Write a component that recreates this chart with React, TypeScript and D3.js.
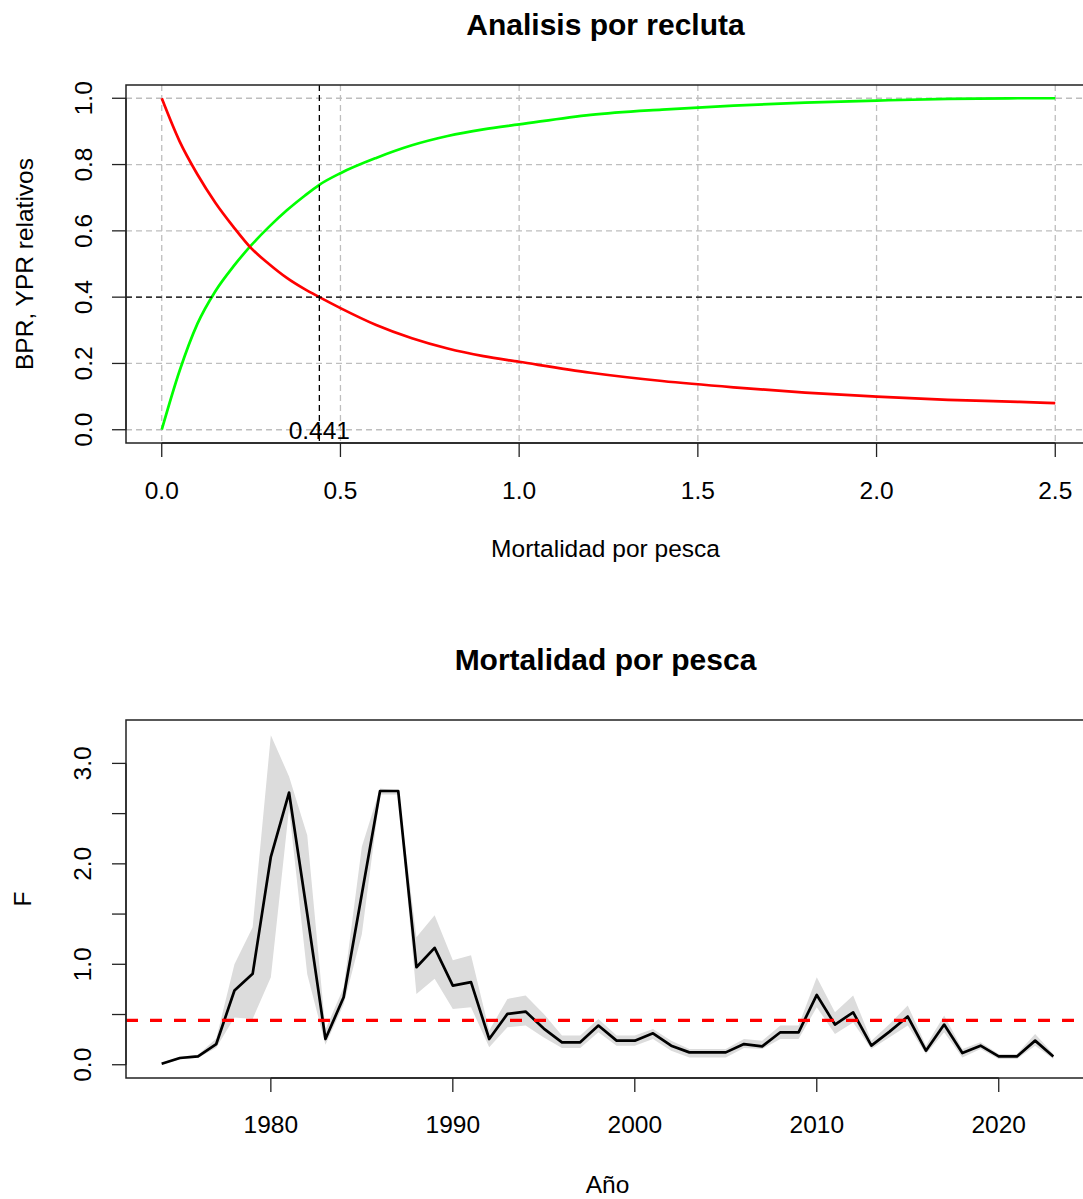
import React from 'react';
import * as d3 from 'd3';

// ---------- Top panel data (per-recruit analysis) ----------
const fGrid = [0, 0.05, 0.1, 0.15, 0.2, 0.25, 0.3, 0.35, 0.4, 0.441, 0.5, 0.6, 0.7, 0.8, 0.9, 1.0, 1.2, 1.4, 1.6, 1.8, 2.0, 2.2, 2.4, 2.5];
const bprRel = [1.0, 0.87, 0.77, 0.685, 0.613, 0.548, 0.5, 0.458, 0.424, 0.4, 0.367, 0.316, 0.276, 0.245, 0.222, 0.205, 0.172, 0.147, 0.128, 0.112, 0.1, 0.09, 0.084, 0.08];
const yprRel = [0.0, 0.178, 0.32, 0.418, 0.492, 0.556, 0.612, 0.662, 0.706, 0.739, 0.774, 0.82, 0.858, 0.886, 0.906, 0.921, 0.95, 0.966, 0.978, 0.987, 0.993, 0.998, 1.0, 1.0];
const fRef = 0.441;
const bprRef = 0.4;
const topXTicks = [0, 0.5, 1.0, 1.5, 2.0, 2.5];
const topYTicks = [0, 0.2, 0.4, 0.6, 0.8, 1.0];

// ---------- Bottom panel data (fishing mortality) ----------
const years = [1974, 1975, 1976, 1977, 1978, 1979, 1980, 1981, 1982, 1983, 1984, 1985, 1986, 1987, 1988, 1989, 1990, 1991, 1992, 1993, 1994, 1995, 1996, 1997, 1998, 1999, 2000, 2001, 2002, 2003, 2004, 2005, 2006, 2007, 2008, 2009, 2010, 2011, 2012, 2013, 2014, 2015, 2016, 2017, 2018, 2019, 2020, 2021, 2022, 2023];
const fishingF = [0.01, 0.067, 0.083, 0.206, 0.739, 0.905, 2.07, 2.71, 1.5, 0.256, 0.672, 1.7, 2.725, 2.725, 0.971, 1.164, 0.788, 0.822, 0.256, 0.506, 0.529, 0.36, 0.223, 0.223, 0.39, 0.24, 0.24, 0.313, 0.19, 0.123, 0.123, 0.123, 0.206, 0.183, 0.323, 0.323, 0.695, 0.4, 0.522, 0.19, 0.33, 0.48, 0.14, 0.4, 0.116, 0.19, 0.083, 0.083, 0.24, 0.083];
const fLower = [0.0, 0.055, 0.07, 0.17, 0.47, 0.456, 0.87, 2.55, 0.9, 0.2, 0.6, 1.3, 2.69, 2.69, 0.705, 0.855, 0.556, 0.572, 0.173, 0.373, 0.39, 0.27, 0.166, 0.166, 0.323, 0.19, 0.19, 0.256, 0.14, 0.073, 0.073, 0.073, 0.166, 0.156, 0.256, 0.256, 0.572, 0.306, 0.42, 0.156, 0.273, 0.39, 0.106, 0.323, 0.073, 0.156, 0.057, 0.057, 0.19, 0.057];
const fUpper = [0.02, 0.08, 0.1, 0.26, 1.0, 1.37, 3.28, 2.87, 2.285, 0.35, 0.77, 2.17, 2.75, 2.73, 1.27, 1.487, 1.04, 1.09, 0.34, 0.655, 0.69, 0.506, 0.29, 0.29, 0.456, 0.29, 0.29, 0.356, 0.24, 0.156, 0.156, 0.156, 0.256, 0.24, 0.39, 0.39, 0.87, 0.522, 0.69, 0.24, 0.406, 0.59, 0.19, 0.49, 0.156, 0.223, 0.106, 0.106, 0.306, 0.106];
const fTarget = 0.441;
const bottomXTicks = [1980, 1990, 2000, 2010, 2020];
const bottomYTicks = [0, 0.5, 1.0, 1.5, 2.0, 2.5, 3.0];
const bottomYLabels = [0, 1.0, 2.0, 3.0];

const FONT = '"Liberation Sans", Arial, Helvetica, sans-serif';
const TXT = 24.5;
const TITLE = 30;
const AXIS = '#222';

export default function App() {
  // top panel geometry
  const tL = 126, tR = 1091, tT = 85, tB = 443;
  const xT = d3.scaleLinear().domain([-0.1, 2.6]).range([tL, tR]);
  const yT = d3.scaleLinear().domain([-0.04, 1.04]).range([tB, tT]);
  const tPts = fGrid.map((f, i) => ({ f, b: bprRel[i], y: yprRel[i] }));
  const bprLine = d3.line<any>().x(d => xT(d.f)).y(d => yT(d.b)).curve(d3.curveMonotoneX);
  const yprLine = d3.line<any>().x(d => xT(d.f)).y(d => yT(d.y)).curve(d3.curveMonotoneX);

  // bottom panel geometry
  const bL = 126, bR = 1089, bT = 720, bB = 1078;
  const xB = d3.scaleLinear().domain([1972.04, 2024.96]).range([bL, bR]);
  const yB = d3.scaleLinear().domain([-0.132, 3.432]).range([bB, bT]);
  const bPts = years.map((yr, i) => ({ yr, v: fishingF[i], lo: fLower[i], hi: fUpper[i] }));
  const band = d3.area<any>().x(d => xB(d.yr)).y0(d => yB(d.lo)).y1(d => yB(d.hi));
  const fLine = d3.line<any>().x(d => xB(d.yr)).y(d => yB(d.v));

  const fmt1 = d3.format('.1f');

  return (
    <svg width={1083} height={1199} style={{ position: 'absolute', left: 0, top: 0, background: '#fff' }}
      fontFamily={FONT}>
      <rect x={0} y={0} width={1083} height={1199} fill="#fff" />

      {/* ================= TOP PANEL ================= */}
      <text x={(tL + tR) / 2 - 3} y={35} textAnchor="middle" fontSize={TITLE} fontWeight="bold" fill="#000">Analisis por recluta</text>

      {/* grid */}
      <g stroke="#bebebe" strokeWidth={1.3} strokeDasharray="6,4" fill="none">
        {topXTicks.map(t => <line key={'gx' + t} x1={xT(t)} x2={xT(t)} y1={tT} y2={tB} />)}
        {topYTicks.map(t => <line key={'gy' + t} x1={tL} x2={tR} y1={yT(t)} y2={yT(t)} />)}
      </g>

      <path d={yprLine(tPts) || ''} fill="none" stroke="#00ff00" strokeWidth={2.7} />
      <path d={bprLine(tPts) || ''} fill="none" stroke="#ff0000" strokeWidth={2.7} />

      {/* reference lines */}
      <g stroke="#000" strokeWidth={1.3} strokeDasharray="6,4">
        <line x1={xT(fRef)} x2={xT(fRef)} y1={tT} y2={tB} />
        <line x1={tL} x2={tR} y1={yT(bprRef)} y2={yT(bprRef)} />
      </g>
      <text x={xT(fRef)} y={yT(0)} dy="0.36em" textAnchor="middle" fontSize={TXT} fill="#000">{fRef}</text>

      {/* box */}
      <rect x={tL} y={tT} width={tR - tL} height={tB - tT} fill="none" stroke={AXIS} strokeWidth={1.5} />

      {/* x axis */}
      <g stroke={AXIS} strokeWidth={1.3}>
        <line x1={xT(topXTicks[0])} x2={xT(topXTicks[topXTicks.length - 1])} y1={tB} y2={tB} />
        {topXTicks.map(t => <line key={'xt' + t} x1={xT(t)} x2={xT(t)} y1={tB} y2={tB + 14} />)}
      </g>
      {topXTicks.map(t => (
        <text key={'xl' + t} x={xT(t)} y={499} textAnchor="middle" fontSize={TXT} fill="#000">{fmt1(t)}</text>
      ))}
      <text x={(tL + tR) / 2 - 3} y={557} textAnchor="middle" fontSize={TXT} fill="#000">Mortalidad por pesca</text>

      {/* y axis */}
      <g stroke={AXIS} strokeWidth={1.3}>
        <line x1={tL} x2={tL} y1={yT(topYTicks[0])} y2={yT(topYTicks[topYTicks.length - 1])} />
        {topYTicks.map(t => <line key={'yt' + t} x1={tL} x2={tL - 14} y1={yT(t)} y2={yT(t)} />)}
      </g>
      {topYTicks.map(t => (
        <text key={'yl' + t} transform={`translate(92,${yT(t)}) rotate(-90)`} textAnchor="middle" fontSize={TXT} fill="#000">{fmt1(t)}</text>
      ))}
      <text transform={`translate(33,${(tT + tB) / 2}) rotate(-90)`} textAnchor="middle" fontSize={TXT} fill="#000">BPR, YPR relativos</text>

      {/* ================= BOTTOM PANEL ================= */}
      <text x={(bL + bR) / 2 - 2} y={670} textAnchor="middle" fontSize={TITLE} fontWeight="bold" fill="#000">Mortalidad por pesca</text>

      <path d={band(bPts) || ''} fill="#dcdcdc" stroke="none" />
      <path d={fLine(bPts) || ''} fill="none" stroke="#000" strokeWidth={2.7} strokeLinejoin="round" />
      <line x1={bL} x2={bR} y1={yB(fTarget)} y2={yB(fTarget)} stroke="#ff0000" strokeWidth={3.3} strokeDasharray="12,12" />

      <rect x={bL} y={bT} width={bR - bL} height={bB - bT} fill="none" stroke={AXIS} strokeWidth={1.5} />

      <g stroke={AXIS} strokeWidth={1.3}>
        <line x1={xB(bottomXTicks[0])} x2={xB(bottomXTicks[bottomXTicks.length - 1])} y1={bB} y2={bB} />
        {bottomXTicks.map(t => <line key={'bxt' + t} x1={xB(t)} x2={xB(t)} y1={bB} y2={bB + 14} />)}
      </g>
      {bottomXTicks.map(t => (
        <text key={'bxl' + t} x={xB(t)} y={1133} textAnchor="middle" fontSize={TXT} fill="#000">{t}</text>
      ))}
      <text x={(bL + bR) / 2} y={1193} textAnchor="middle" fontSize={TXT} fill="#000">Año</text>

      <g stroke={AXIS} strokeWidth={1.3}>
        <line x1={bL} x2={bL} y1={yB(bottomYTicks[0])} y2={yB(bottomYTicks[bottomYTicks.length - 1])} />
        {bottomYTicks.map(t => <line key={'byt' + t} x1={bL} x2={bL - 14} y1={yB(t)} y2={yB(t)} />)}
      </g>
      {bottomYLabels.map(t => (
        <text key={'byl' + t} transform={`translate(91,${yB(t)}) rotate(-90)`} textAnchor="middle" fontSize={TXT} fill="#000">{fmt1(t)}</text>
      ))}
      <text transform={`translate(31,${(bT + bB) / 2}) rotate(-90)`} textAnchor="middle" fontSize={TXT} fill="#000">F</text>
    </svg>
  );
}
